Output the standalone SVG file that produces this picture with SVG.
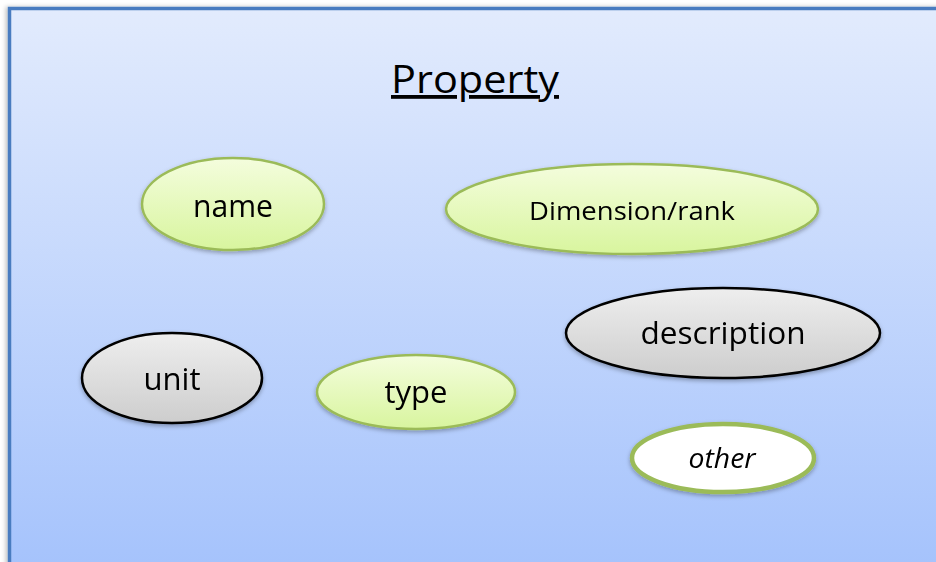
<svg xmlns="http://www.w3.org/2000/svg" width="936" height="562" viewBox="0 0 936 562">
  <defs>
    <linearGradient id="bg" x1="0" y1="0" x2="0" y2="1">
      <stop offset="0" stop-color="#e2ebfd"/>
      <stop offset="1" stop-color="#a4c2fc"/>
    </linearGradient>
    <linearGradient id="green" x1="0" y1="0" x2="0" y2="1">
      <stop offset="0" stop-color="#f4fddd"/>
      <stop offset="1" stop-color="#d8f59e"/>
    </linearGradient>
    <linearGradient id="gray" x1="0" y1="0" x2="0" y2="1">
      <stop offset="0" stop-color="#eeeeee"/>
      <stop offset="1" stop-color="#cdcdcd"/>
    </linearGradient>
    <filter id="shadow" x="-20%" y="-20%" width="140%" height="150%">
      <feDropShadow dx="0" dy="2" stdDeviation="2" flood-color="#000" flood-opacity="0.3"/>
    </filter>
    <filter id="frameShadow" x="-5%" y="-5%" width="110%" height="110%">
      <feDropShadow dx="-2" dy="0" stdDeviation="2" flood-color="#000" flood-opacity="0.25"/>
    </filter>
  </defs>
  <style>
    .lbl { font-family: "Open Sans", "Noto Sans", sans-serif; fill: #000; text-anchor: middle; }
    .req { fill: url(#green); stroke: #9bbb59; stroke-width: 2.5; }
    .opt { fill: url(#gray); stroke: #000; stroke-width: 2.5; }
    .ext { fill: #ffffff; stroke: #9bbb59; stroke-width: 4.5; }
  </style>

  <rect width="936" height="562" fill="#ffffff"/>

  <!-- property frame -->
  <g id="frame">
    <rect x="9.5" y="8.5" width="940" height="570" fill="url(#bg)" stroke="#4a7cc0" stroke-width="3.5" filter="url(#frameShadow)"/>
    <text class="lbl" x="475" y="93" font-size="38" textLength="168" lengthAdjust="spacingAndGlyphs" text-decoration="underline">Property</text>
  </g>

  <g id="node-name" filter="url(#shadow)">
    <ellipse class="req" cx="233" cy="204" rx="91" ry="46"/>
    <text class="lbl" x="233" y="217" font-size="31" textLength="80" lengthAdjust="spacingAndGlyphs">name</text>
  </g>

  <g id="node-dimension" filter="url(#shadow)">
    <ellipse class="req" cx="632" cy="209" rx="186" ry="45"/>
    <text class="lbl" x="632" y="220" font-size="25" textLength="206" lengthAdjust="spacingAndGlyphs">Dimension/rank</text>
  </g>

  <g id="node-unit" filter="url(#shadow)">
    <ellipse class="opt" cx="172" cy="378" rx="90" ry="45"/>
    <text class="lbl" x="172" y="390" font-size="31" textLength="57" lengthAdjust="spacingAndGlyphs">unit</text>
  </g>

  <g id="node-type" filter="url(#shadow)">
    <ellipse class="req" cx="416" cy="392" rx="99" ry="37"/>
    <text class="lbl" x="416" y="403" font-size="31" textLength="63" lengthAdjust="spacingAndGlyphs">type</text>
  </g>

  <g id="node-description" filter="url(#shadow)">
    <ellipse class="opt" cx="723" cy="333" rx="157" ry="45"/>
    <text class="lbl" x="723" y="344" font-size="31" textLength="165" lengthAdjust="spacingAndGlyphs">description</text>
  </g>

  <g id="node-other" filter="url(#shadow)">
    <ellipse class="ext" cx="723" cy="458" rx="91" ry="34"/>
    <text class="lbl" x="722" y="468" font-size="27" font-style="italic" textLength="67" lengthAdjust="spacingAndGlyphs">other</text>
  </g>

  <g id="connectors"/>
</svg>
